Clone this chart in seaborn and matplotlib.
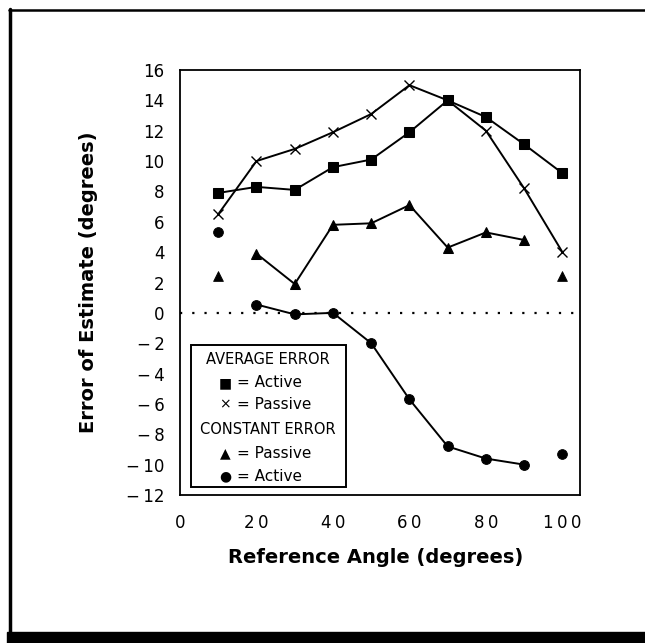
import matplotlib
matplotlib.use("Agg")
import matplotlib.pyplot as plt
import seaborn as sns
import numpy as np
import pandas as pd
from matplotlib.patches import Rectangle
from matplotlib.lines import Line2D

# ---- data ----
angles = [10, 20, 30, 40, 50, 60, 70, 80, 90, 100]
avg_active = [7.9, 8.3, 8.1, 9.6, 10.1, 11.9, 14.0, 12.9, 11.1, 9.2]
avg_passive = [6.5, 10.0, 10.8, 11.9, 13.1, 15.0, 14.0, 12.0, 8.2, 4.0]
const_passive = [2.4, 3.9, 1.9, 5.8, 5.9, 7.1, 4.3, 5.3, 4.8, 2.4]
const_active = [5.3, 0.55, -0.1, 0.0, -2.0, -5.7, -8.8, -9.6, -10.0, -9.3]

x_ticks = [0, 20, 40, 60, 80, 100]
y_ticks = list(range(-12, 17, 2))
x_label = "Reference Angle (degrees)"
y_label = "Error of Estimate (degrees)"
legend_lines = ["AVERAGE ERROR", "= Active", "= Passive", "CONSTANT ERROR", "= Passive", "= Active"]
legend_symbols = ["", "\u25A0", "\u00D7", "", "\u25B2", "\u25CF"]

sns.set_style("white")
plt.rcParams["font.family"] = ["DejaVu Sans"]
for key in ["text.color", "axes.labelcolor", "xtick.color", "ytick.color", "axes.edgecolor"]:
    plt.rcParams[key] = "black"

df = pd.DataFrame({"angle": angles, "avg_active": avg_active, "avg_passive": avg_passive,
                   "const_passive": const_passive, "const_active": const_active})
inner = df[(df.angle >= 20) & (df.angle <= 90)]
outer = df[(df.angle < 20) | (df.angle > 90)]

fig = plt.figure(figsize=(6.45, 6.43), dpi=100)
ax = fig.add_axes([180 / 645, 1 - 495 / 643, 400 / 645, 425 / 643])

k = dict(color="black", linewidth=1.4, ax=ax, legend=False)
sns.lineplot(data=df, x="angle", y="avg_active", marker="s", markersize=7.5, markeredgecolor="black", **k)
sns.lineplot(data=df, x="angle", y="avg_passive", marker="x", markersize=7, markeredgewidth=1.0,
             markeredgecolor="black", **k)
sns.lineplot(data=inner, x="angle", y="const_passive", marker="^", markersize=7, markeredgecolor="black", **k)
sns.lineplot(data=inner, x="angle", y="const_active", marker="o", markersize=7, markeredgecolor="black", **k)
sns.scatterplot(data=outer, x="angle", y="const_passive", marker="^", s=50, color="black", edgecolor="black", ax=ax, legend=False)
sns.scatterplot(data=outer, x="angle", y="const_active", marker="o", s=50, color="black", edgecolor="black", ax=ax, legend=False)

ax.axhline(0, color="black", linewidth=1.6, linestyle=(0, (1, 4.5)))

ax.set_xlim(0, 104.6)
ax.set_ylim(-12, 16)
ax.set_xticks(x_ticks)
ax.set_xticklabels(["\u2009".join(str(t)) for t in x_ticks], fontsize=12)
ax.set_yticks(y_ticks)
ax.set_yticklabels([("\u2212\u2009" + str(abs(t))) if t < 0 else str(t) for t in y_ticks], fontsize=12)
ax.tick_params(axis="y", direction="out", length=8, width=1.2, pad=3)
ax.tick_params(axis="x", direction="out", length=6, width=1.2, pad=8)
for s in ax.spines.values():
    s.set_linewidth(1.3)
    s.set_color("black")

ax.set_xlabel(x_label, fontsize=14, fontweight="heavy")
ax.set_ylabel(y_label, fontsize=14, fontweight="heavy")
ax.xaxis.set_label_coords(0.49, -0.125)
ax.yaxis.set_label_coords(-0.205, 0.5)

# legend box
ax.add_patch(Rectangle((0.027, 0.0195), 0.387, 0.3335, transform=ax.transAxes,
                       fill=False, edgecolor="black", linewidth=1.4, zorder=5))
ys = [0.319, 0.264, 0.214, 0.155, 0.098, 0.043]
for txt, sym, yy in zip(legend_lines, legend_symbols, ys):
    if sym == "":
        ax.text(0.22, yy, txt, transform=ax.transAxes, ha="center", va="center", fontsize=10.5)
    else:
        ax.text(0.1125, yy, sym, transform=ax.transAxes, ha="center", va="center", fontsize=10)
        ax.text(0.142, yy, txt, transform=ax.transAxes, ha="left", va="center", fontsize=11)

# outer frame
fig.add_artist(Line2D([10 / 645, 10 / 645], [0, 1 - 9 / 643], transform=fig.transFigure, color="black", linewidth=2.5))
fig.add_artist(Line2D([9 / 645, 1], [1 - 10 / 643, 1 - 10 / 643], transform=fig.transFigure, color="black", linewidth=1.8))
fig.add_artist(Rectangle((7 / 645, 0), 1, 11 / 643, transform=fig.transFigure, color="black"))

fig.savefig("out.png", dpi=100)
